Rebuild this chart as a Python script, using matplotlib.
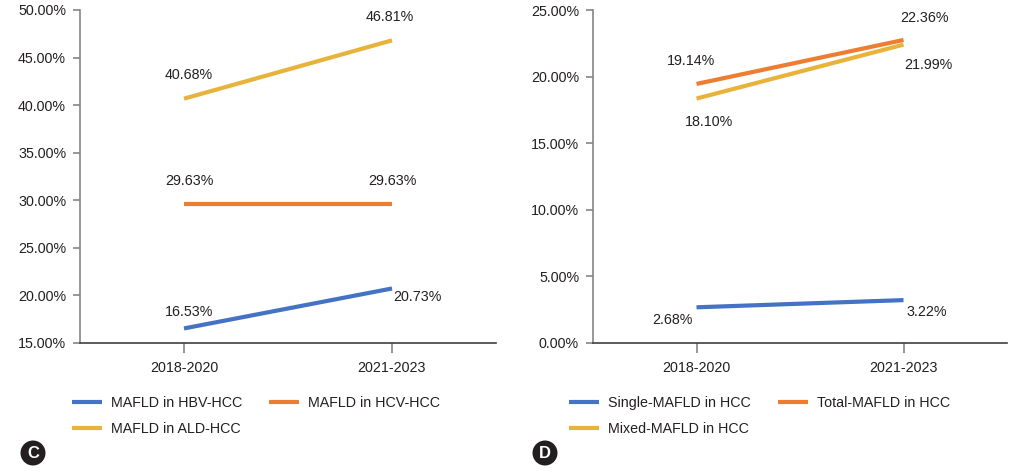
import matplotlib
matplotlib.use("Agg")
import matplotlib.pyplot as plt
from matplotlib.ticker import FuncFormatter

plt.rcParams['font.family'] = ['Liberation Sans', 'DejaVu Sans']
plt.rcParams['font.size'] = 10

periods = ['2018-2020', '2021-2023']

# panel C
hbv = [16.53, 20.73]
hcv = [29.63, 29.63]
ald = [40.68, 46.81]
c_names = ['MAFLD in HBV-HCC', 'MAFLD in HCV-HCC', 'MAFLD in ALD-HCC']

# panel D (line heights as drawn, labels as printed)
single = [2.68, 3.22]
total = [19.45, 22.75]
mixed = [18.35, 22.40]
single_lbl = ['2.68%', '3.22%']
total_lbl = ['19.14%', '22.36%']
mixed_lbl = ['18.10%', '21.99%']
d_names = ['Single-MAFLD in HCC', 'Total-MAFLD in HCC', 'Mixed-MAFLD in HCC']

blue = '#4472C4'
orange = '#ED7D31'
gold = '#E8B33A'
txt = '#231F20'

fig = plt.figure(figsize=(10.36, 4.75), dpi=100)
axC = fig.add_axes([80/1036, 1-343/475, 416/1036, 333/475])
axD = fig.add_axes([593/1036, 1-343/475, 414/1036, 333/475])

x = range(len(periods))


def style(ax, lo, hi, step):
    ax.set_xlim(-0.5, 1.5)
    ax.set_ylim(lo, hi)
    ax.set_yticks([lo + i*step for i in range(int(round((hi-lo)/step)) + 1)])
    ax.yaxis.set_major_formatter(FuncFormatter(lambda v, p: '%.2f%%' % v))
    ax.set_xticks(list(x))
    ax.set_xticklabels(periods)
    for s in ['top', 'right']:
        ax.spines[s].set_visible(False)
    ax.spines['left'].set_color('#858585')
    ax.spines['left'].set_linewidth(1.2)
    ax.spines['bottom'].set_color('#404040')
    ax.spines['bottom'].set_linewidth(1.2)
    ax.tick_params(axis='y', length=5, width=1.2, color='#858585', pad=5, labelcolor=txt, labelsize=10.3)
    ax.tick_params(axis='x', length=7, width=1.2, color='#858585', pad=6, labelcolor=txt, labelsize=10.3)


def lab(ax, xi, yi, s, dx, dy):
    ax.annotate(s, (xi, yi), xytext=(dx, dy), textcoords='offset pixels',
                ha='center', va='center', fontsize=10.3, color=txt)


# C
lC = []
lC.append(axC.plot(x, hbv, color=blue, lw=3, solid_capstyle='butt')[0])
lC.append(axC.plot(x, hcv, color=orange, lw=3, solid_capstyle='butt')[0])
lC.append(axC.plot(x, ald, color=gold, lw=3, solid_capstyle='butt')[0])
style(axC, 15, 50, 5)
lab(axC, 0, ald[0], '%.2f%%' % ald[0], 5, 24)
lab(axC, 1, ald[1], '%.2f%%' % ald[1], -2, 23)
lab(axC, 0, hcv[0], '%.2f%%' % hcv[0], 5, 23)
lab(axC, 1, hcv[1], '%.2f%%' % hcv[1], 0, 23)
lab(axC, 0, hbv[0], '%.2f%%' % hbv[0], 5, 16)
lab(axC, 1, hbv[1], '%.2f%%' % hbv[1], 25, -9)

# D
lD = []
lD.append(axD.plot(x, single, color=blue, lw=3, solid_capstyle='butt')[0])
lD.append(axD.plot(x, total, color=orange, lw=3, solid_capstyle='butt')[0])
lD.append(axD.plot(x, mixed, color=gold, lw=3, solid_capstyle='butt')[0])
style(axD, 0, 25, 5)
lab(axD, 0, total[0], total_lbl[0], -6, 23)
lab(axD, 0, mixed[0], mixed_lbl[0], 13, -23)
lab(axD, 1, total[1], total_lbl[1], 21, 22)
lab(axD, 1, mixed[1], mixed_lbl[1], 25, -20)
lab(axD, 0, single[0], single_lbl[0], -24, -13)
lab(axD, 1, single[1], single_lbl[1], 23, -12)

# legends (order so rows read 1,2 / 3)
legkw = dict(ncol=2, loc='upper left', frameon=False, borderpad=0, borderaxespad=0,
             handlelength=2.1, handletextpad=0.62, columnspacing=1.9,
             labelspacing=0.85, fontsize=10.3, labelcolor=txt)
fig.legend([lC[0], lC[2], lC[1]], [c_names[0], c_names[2], c_names[1]],
           bbox_to_anchor=(72/1036, 1-396/475), **legkw)
fig.legend([lD[0], lD[2], lD[1]], [d_names[0], d_names[2], d_names[1]],
           bbox_to_anchor=(569/1036, 1-396/475), **legkw)

# panel badges
for px, letter in [(33, 'C'), (545, 'D')]:
    fig.text(px/1036, 1-453/475, letter, ha='center', va='center', color='white',
             fontsize=12, fontweight='bold',
             bbox=dict(boxstyle='circle,pad=0.3', fc='#231F20', ec='none'))

fig.savefig('out.png', dpi=100)
